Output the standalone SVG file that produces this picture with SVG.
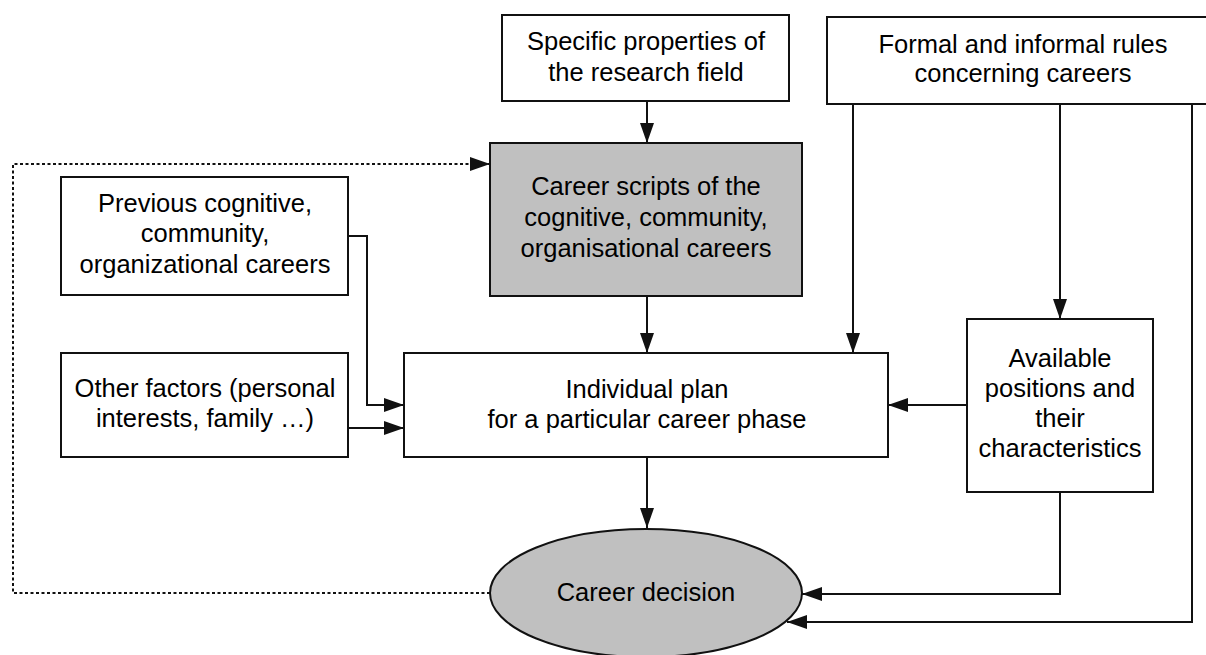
<svg xmlns="http://www.w3.org/2000/svg" width="1206" height="655" viewBox="0 0 1206 655">
  <style>
    .box { fill: #ffffff; stroke: #111111; stroke-width: 2; }
    .shaded { fill: #c0c0c0; stroke: #111111; stroke-width: 2; }
    .lbl { font-family: "Liberation Sans", Arial, sans-serif; font-size: 25.5px; fill: #000000; text-anchor: middle; }
    .link { fill: none; stroke: #111111; stroke-width: 2; }
    .dotted { fill: none; stroke: #111111; stroke-width: 2; stroke-dasharray: 3 2.5; }
  </style>
  <defs>
    <marker id="arrow" viewBox="0 0 20 14" refX="20" refY="7" markerWidth="20" markerHeight="14" markerUnits="userSpaceOnUse" orient="auto">
      <path d="M0,0 L20,7 L0,14 Z" fill="#111111"/>
    </marker>
  </defs>

  <!-- connectors -->
  <g id="connectors">
    <line class="link" x1="647" y1="101" x2="647" y2="143" marker-end="url(#arrow)"/>
    <line class="link" x1="647" y1="296" x2="647" y2="353" marker-end="url(#arrow)"/>
    <line class="link" x1="647" y1="457" x2="647" y2="528" marker-end="url(#arrow)"/>
    <polyline class="link" points="348,236 367,236 367,405 404,405" marker-end="url(#arrow)"/>
    <line class="link" x1="348" y1="428" x2="404" y2="428" marker-end="url(#arrow)"/>
    <line class="link" x1="853" y1="104" x2="853" y2="353" marker-end="url(#arrow)"/>
    <line class="link" x1="1060" y1="104" x2="1060" y2="319" marker-end="url(#arrow)"/>
    <line class="link" x1="967" y1="405" x2="888" y2="405" marker-end="url(#arrow)"/>
    <polyline class="link" points="1060,492 1060,594 802,594" marker-end="url(#arrow)"/>
    <polyline class="link" points="1192,104 1192,622 787,622" marker-end="url(#arrow)"/>
    <polyline class="dotted" points="490,593 13,593 13,164 490,164" marker-end="url(#arrow)"/>
  </g>

  <g id="research-field">
    <rect class="box" x="502" y="15" width="287" height="86"/>
    <text class="lbl" x="646" y="50">Specific properties of</text>
    <text class="lbl" x="646" y="81">the research field</text>
  </g>

  <g id="rules">
    <rect class="box" x="827" y="17" width="380" height="87"/>
    <text class="lbl" x="1023" y="53">Formal and informal rules</text>
    <text class="lbl" x="1023" y="82">concerning careers</text>
  </g>

  <g id="career-scripts">
    <rect class="shaded" x="490" y="143" width="312" height="153"/>
    <text class="lbl" x="646" y="195">Career scripts of the</text>
    <text class="lbl" x="646" y="226">cognitive, community,</text>
    <text class="lbl" x="646" y="257">organisational careers</text>
  </g>

  <g id="previous-careers">
    <rect class="box" x="61" y="177" width="287" height="118"/>
    <text class="lbl" x="205" y="212">Previous cognitive,</text>
    <text class="lbl" x="205" y="242">community,</text>
    <text class="lbl" x="205" y="273">organizational careers</text>
  </g>

  <g id="other-factors">
    <rect class="box" x="61" y="353" width="287" height="104"/>
    <text class="lbl" x="205" y="397">Other factors (personal</text>
    <text class="lbl" x="205" y="427">interests, family …)</text>
  </g>

  <g id="individual-plan">
    <rect class="box" x="404" y="353" width="484" height="104"/>
    <text class="lbl" x="647" y="398">Individual plan</text>
    <text class="lbl" x="647" y="428">for a particular career phase</text>
  </g>

  <g id="available-positions">
    <rect class="box" x="967" y="319" width="186" height="173"/>
    <text class="lbl" x="1060" y="367">Available</text>
    <text class="lbl" x="1060" y="397">positions and</text>
    <text class="lbl" x="1060" y="427">their</text>
    <text class="lbl" x="1060" y="457">characteristics</text>
  </g>

  <g id="career-decision">
    <ellipse class="shaded" cx="646" cy="593" rx="156" ry="64"/>
    <text class="lbl" x="646" y="601">Career decision</text>
  </g>
</svg>
